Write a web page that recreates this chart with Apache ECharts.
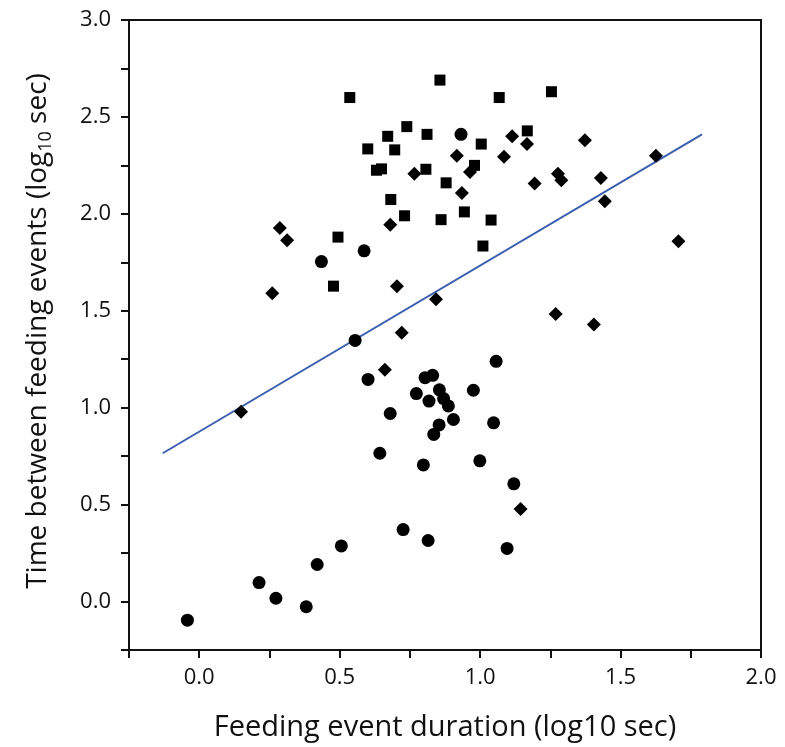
<!DOCTYPE html>
<html>
<head>
<meta charset="utf-8">
<script src="https://cdn.jsdelivr.net/npm/echarts@6/dist/echarts.min.js"></script>
<style>
  html, body { margin: 0; padding: 0; background: #fff; }
  #main { width: 785px; height: 747px; }
</style>
</head>
<body>
<div id="main"></div>
<script>
// feeding events (log10 sec)
var squareX = [0.536, 0.857, 1.068, 1.254, 0.600, 0.671, 0.739, 0.811, 0.696, 0.631, 0.649, 0.807, 0.879, 0.682, 0.731, 0.861, 0.494, 0.478, 1.168, 1.004, 0.980, 0.944, 1.039, 1.010];
var squareY = [2.600, 2.690, 2.600, 2.630, 2.335, 2.400, 2.450, 2.410, 2.330, 2.225, 2.232, 2.230, 2.160, 2.074, 1.990, 1.970, 1.880, 1.627, 2.428, 2.360, 2.250, 2.010, 1.968, 1.834];

var diamondX = [1.114, 1.167, 1.373, 0.917, 1.085, 0.964, 0.935, 1.194, 1.277, 1.289, 1.430, 1.444, 1.626, 1.706, 1.269, 1.405, 0.766, 0.680, 0.287, 0.313, 0.260, 0.704, 0.843, 0.721, 0.149, 0.661, 1.144];
var diamondY = [2.400, 2.360, 2.380, 2.300, 2.295, 2.216, 2.108, 2.156, 2.207, 2.173, 2.185, 2.065, 2.300, 1.858, 1.483, 1.429, 2.207, 1.944, 1.927, 1.864, 1.590, 1.626, 1.560, 1.386, 0.979, 1.196, 0.477];

var circleX = [0.932, 0.435, 0.587, 0.555, 0.601, 0.804, 0.831, 0.773, 0.818, 0.855, 0.870, 0.887, 0.905, 0.854, 0.835, 0.680, 0.643, 0.798, 0.726, 0.815, 0.506, 0.420, 0.213, 0.273, 0.381, -0.042, 0.976, 1.057, 1.048, 0.999, 1.120, 1.096];
var circleY = [2.410, 1.754, 1.809, 1.347, 1.146, 1.155, 1.167, 1.073, 1.034, 1.092, 1.047, 1.009, 0.939, 0.911, 0.862, 0.970, 0.765, 0.705, 0.371, 0.315, 0.287, 0.191, 0.098, 0.017, -0.027, -0.096, 1.090, 1.239, 0.922, 0.726, 0.607, 0.274];

// regression line end points
var trendX = [-0.13, 1.79];
var trendY = [0.765, 2.41];

var xTicks = [-0.25, 2.0];
var yTicks = [-0.25, 3.0];

function pairs(xs, ys) {
  return xs.map(function (x, i) { return [x, ys[i]]; });
}

function halfLabel(v) {
  var r = Math.round(v * 100);
  return r % 50 === 0 ? (r / 100).toFixed(1) : '';
}

var chart = echarts.init(document.getElementById('main'));
chart.setOption({
  animation: false,
  grid: {
    left: 129, right: 24, top: 20, bottom: 94,
    show: true, borderColor: '#111', borderWidth: 2
  },
  xAxis: {
    type: 'value',
    min: xTicks[0], max: xTicks[1], interval: 0.25,
    name: 'Feeding event duration (log10 sec)',
    nameLocation: 'middle', nameGap: 63,
    nameTextStyle: { fontFamily: 'Open Sans', fontSize: 29, color: '#111' },
    axisLine: { onZero: false, lineStyle: { color: '#111', width: 2 } },
    axisTick: { show: true, length: 8, inside: false, lineStyle: { color: '#111', width: 2 } },
    axisLabel: { formatter: halfLabel, fontFamily: 'Open Sans', fontSize: 22, color: '#111', margin: 17 },
    splitLine: { show: false }
  },
  yAxis: {
    type: 'value',
    min: yTicks[0], max: yTicks[1], interval: 0.25,
    name: 'Time between feeding events (log{sub|10} sec)',
    nameLocation: 'middle', nameGap: 74, nameRotate: 90,
    nameTextStyle: {
      fontFamily: 'Open Sans', fontSize: 28, color: '#111',
      padding: [0, 0, 0, 8],
      rich: {
        sub: { fontFamily: 'Open Sans', fontSize: 18, color: '#111', padding: [15, 0, 0, 0] }
      }
    },
    axisLine: { onZero: false, lineStyle: { color: '#111', width: 2 } },
    axisTick: { show: true, length: 8, lineStyle: { color: '#111', width: 2 } },
    axisLabel: { formatter: halfLabel, fontFamily: 'Open Sans', fontSize: 22, color: '#111', margin: 18 },
    splitLine: { show: false }
  },
  series: [
    {
      type: 'line',
      data: pairs(trendX, trendY),
      symbol: 'none',
      lineStyle: { color: '#3b5fae', width: 2 },
      z: 1
    },
    {
      type: 'scatter',
      data: pairs(squareX, squareY),
      symbol: 'rect', symbolSize: 11,
      itemStyle: { color: '#000', opacity: 1 },
      z: 3
    },
    {
      type: 'scatter',
      data: pairs(diamondX, diamondY),
      symbol: 'diamond', symbolSize: 14,
      itemStyle: { color: '#000', opacity: 1 },
      z: 3
    },
    {
      type: 'scatter',
      data: pairs(circleX, circleY),
      symbol: 'circle', symbolSize: 13,
      itemStyle: { color: '#000', opacity: 1 },
      z: 3
    }
  ]
});
</script>
</body>
</html>
